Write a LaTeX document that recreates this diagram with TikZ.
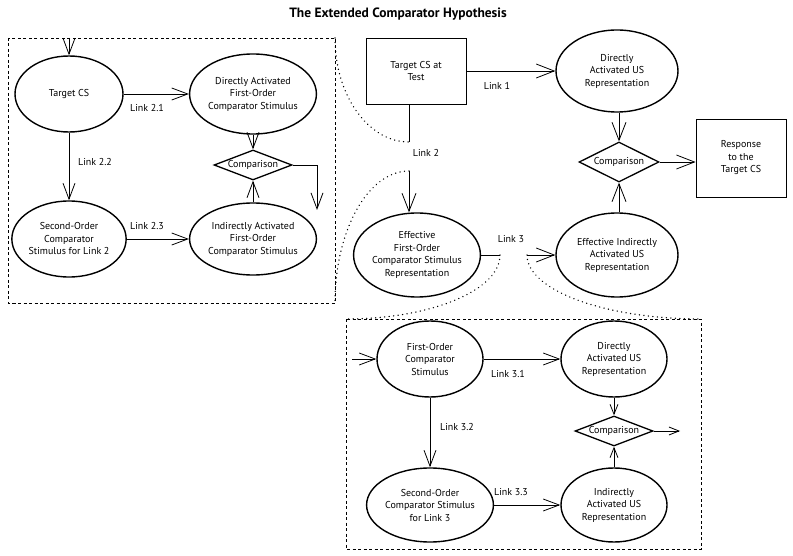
\documentclass[tikz,border=0pt]{standalone}
\usepackage{fontspec}
\setmainfont{PT Sans}
\usetikzlibrary{shapes.geometric,arrows.meta}
\begin{document}
\begin{tikzpicture}[x=1pt,y=-1pt,
  every node/.style={font=\fontsize{10}{12.5}\selectfont, align=center, inner sep=0pt},
  ell/.style={draw, ellipse, line width=1.4pt},
  rbox/.style={draw, rectangle, line width=0.9pt},
  dia/.style={draw, diamond, line width=1.3pt},
  lnk/.style={line width=0.8pt},
  con/.style={line width=0.8pt, -{Straight Barb[length=16pt,width=12pt]}},
  bigcon/.style={line width=0.8pt, -{Straight Barb[length=18pt,width=14pt]}},
  smallcon/.style={line width=0.8pt, -{Straight Barb[length=10pt,width=8pt]}},
  dashbox/.style={line width=0.7pt, dash pattern=on 3pt off 2.5pt},
  dotline/.style={line width=1.5pt, line cap=round, dash pattern=on 0.01pt off 4.5pt},
  lbl/.style={font=\fontsize{10}{12}\selectfont}
]
\useasboundingbox[fill=white] (0,0) rectangle (793,556);

% title
\node[font=\fontsize{13.5}{16}\selectfont\bfseries] (title) at (398,14) {The Extended Comparator Hypothesis};

% left dashed box
\coordinate (b1a) at (8,38);
\coordinate (b1b) at (335,303);
\coordinate (b1ne) at (335,38);
\draw[dashbox] (b1a) rectangle (b1b);

\node[ell, minimum width=108, minimum height=76] (tcs) at (69,94) {Target CS};
\node[ell, minimum width=104, minimum height=80] (dafo) at (253,94) {Directly Activated\\First-Order\\Comparator Stimulus};
\node[dia, minimum width=78, minimum height=30, aspect=3] (cmp2) at (253,165) {Comparison};
\node[ell, minimum width=108, minimum height=76] (so2) at (69,239) {Second-Order\\Comparator\\Stimulus for Link 2};
\node[ell, minimum width=104, minimum height=72] (iafo) at (253,239) {Indirectly Activated\\First-Order\\Comparator Stimulus};

\coordinate (in2) at (69,38);
\coordinate (c2e) at (317,210);
\draw[con] (in2) -- (tcs);
\draw[con] (tcs) -- (dafo);
\draw[con] (tcs) -- (so2);
\draw[con] (so2) -- (iafo);
\draw[con] (dafo) -- (cmp2);
\draw[con] (iafo) -- (cmp2);
\draw[con] (cmp2.east) -| (c2e);

\node[lbl] (l21) at (147,108) {Link 2.1};
\node[lbl] (l22) at (95,162) {Link 2.2};
\node[lbl] (l23) at (147,226) {Link 2.3};

% top right
\node[rbox, minimum width=100, minimum height=66] (tcst) at (416,71) {Target CS at\\Test};
\node[ell, minimum width=122, minimum height=82] (daus) at (617,71) {Directly\\Activated US\\Representation};
\node[dia, minimum width=80, minimum height=40, aspect=2] (cmp1) at (619,162) {Comparison};
\node[rbox, minimum width=90, minimum height=78] (resp) at (741,158) {Response\\to the\\Target CS};
\node[ell, minimum width=122, minimum height=84] (efo) at (417,255) {Effective\\First-Order\\Comparator Stimulus\\Representation};
\node[ell, minimum width=122, minimum height=84] (eius) at (617,255) {Effective Indirectly\\Activated US\\Representation};

\coordinate (l2a) at (409,142);
\coordinate (l2b) at (409,171);
\coordinate (l3a) at (500,255);
\coordinate (l3b) at (527,255);

\draw[bigcon] (tcst) -- (daus);
\draw[lnk] (tcst.south -| l2a) -- (l2a);
\draw[bigcon] (l2b) -- (l2b |- efo.north);
\draw[bigcon] (daus.south -| cmp1) -- (cmp1.north);
\draw[bigcon] (eius.north -| cmp1) -- (cmp1.south);
\draw[bigcon] (cmp1.east) -- (cmp1.east -| resp.west);
\draw[lnk] (efo.east) -- (l3a);
\draw[bigcon] (l3b) -- (eius.west);

\node[lbl] (lk1) at (497,86) {Link 1};
\node[lbl] (lk2) at (426,153) {Link 2};
\node[lbl] (lk3) at (511,239) {Link 3};

% bottom dashed box
\coordinate (b3a) at (346,319);
\coordinate (b3b) at (701,549);
\coordinate (b3ne) at (701,319);
\draw[dashbox] (b3a) rectangle (b3b);

\node[ell, minimum width=106, minimum height=76] (fo) at (430,359) {First-Order\\Comparator\\Stimulus};
\node[ell, minimum width=106, minimum height=76] (daus3) at (614,359) {Directly\\Activated US\\Representation};
\node[dia, minimum width=78, minimum height=30, aspect=3] (cmp3) at (614,431) {Comparison};
\node[ell, minimum width=106, minimum height=74] (so3) at (430,505) {Second-Order\\Comparator Stimulus\\for Link 3};
\node[ell, minimum width=106, minimum height=74] (ias3) at (614,505) {Indirectly\\Activated US\\Representation};

\coordinate (in3) at (352,359);
\coordinate (o3) at (680,431);
\draw[con] (in3) -- (fo);
\draw[con] (fo) -- (daus3);
\draw[con] (fo) -- (so3);
\draw[con] (so3) -- (ias3);
\draw[smallcon] (daus3) -- (cmp3);
\draw[smallcon] (ias3) -- (cmp3);
\draw[smallcon] (cmp3.east) -- (o3);

\node[lbl] (l31) at (508,374) {Link 3.1};
\node[lbl] (l32) at (457,427) {Link 3.2};
\node[lbl] (l33) at (511,492) {Link 3.3};

% dotted arcs
\draw[dotline] (b1ne) .. controls (335,95.4) and (368.2,142) .. (l2a);
\draw[dotline] (l2b) .. controls (368.2,171) and (335,230.1) .. (b1b);
\draw[dotline] (l3a) .. controls (500,290.3) and (431,319) .. (b3a);
\draw[dotline] (l3b) .. controls (527,290.3) and (605,319) .. (b3ne);
\end{tikzpicture}
\end{document}
